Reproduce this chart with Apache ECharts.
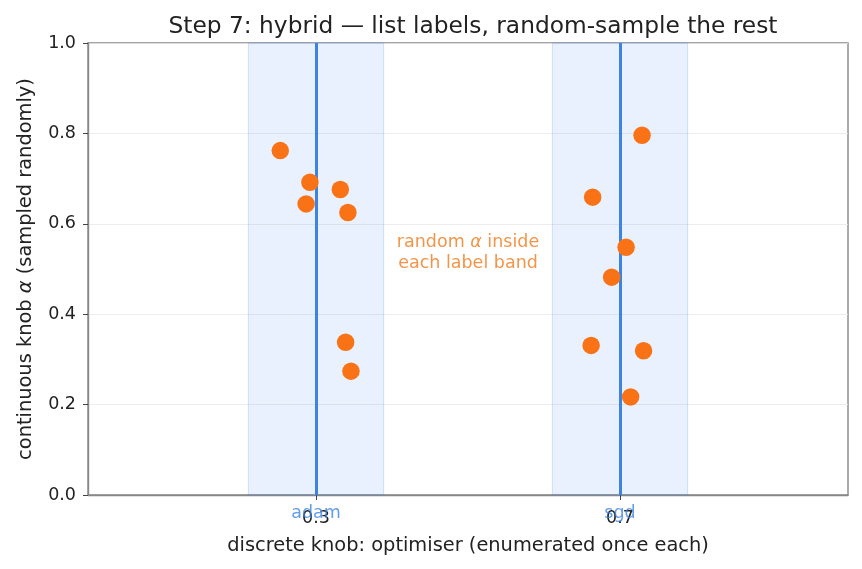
<!DOCTYPE html>
<html><head><meta charset="utf-8">
<script src="https://cdn.jsdelivr.net/npm/echarts@6/dist/echarts.min.js"></script>
<style>html,body{margin:0;padding:0;background:#fff}#c{width:862px;height:569px}</style>
</head><body><div id="c"></div>
<script>
const labels = ['adam', 'sgd'];
const labelPositions = [0.3, 0.7];
const bandHalfWidth = 0.089;
const adamPoints = [[0.253,0.762],[0.292,0.692],[0.332,0.676],[0.287,0.644],[0.342,0.625],[0.339,0.338],[0.346,0.274]];
const sgdPoints = [[0.729,0.796],[0.664,0.659],[0.708,0.548],[0.689,0.482],[0.662,0.331],[0.731,0.319],[0.714,0.217]];
const yTicks = [0, 0.2, 0.4, 0.6, 0.8, 1.0];
const annotation = {x: 0.5, y: 0.535};

const FONT = 'DejaVu Sans';
const BLUE = '#3d84e2';
const ORANGE = '#f97316';
const TEXT_ORANGE = '#f07a1c';
const chart = echarts.init(document.getElementById('c'));
chart.setOption({
  animation: false,
  textStyle: {fontFamily: FONT},
  title: {text: 'Step 7: hybrid — list labels, random-sample the rest', left: 468, textAlign: 'center', top: 10,
    textStyle: {fontFamily: FONT, fontSize: 23.3, fontWeight: 'normal', color: '#222'}},
  grid: {left: 88, right: 14, top: 43, bottom: 74, show: true, borderColor: '#888', borderWidth: 1.4, backgroundColor: 'transparent'},
  xAxis: {type: 'value', min: 0, max: 1,
    name: 'discrete knob: optimiser (enumerated once each)', nameLocation: 'middle', nameGap: 41,
    nameTextStyle: {fontFamily: FONT, fontSize: 19.4, color: '#222'},
    axisLine: {show: true, lineStyle: {color: '#888', width: 1.4}},
    axisTick: {show: true, customValues: labelPositions, length: 5, lineStyle: {color: '#444'}},
    axisLabel: {customValues: labelPositions, formatter: v => v.toFixed(1), fontFamily: FONT, fontSize: 17.5, color: '#222', margin: 14},
    splitLine: {show: false}},
  yAxis: {type: 'value', min: 0, max: 1, interval: 0.2,
    name: 'continuous knob {i|α} (sampled randomly)', nameLocation: 'middle', nameGap: 53,
    nameTextStyle: {fontFamily: FONT, fontSize: 19.4, color: '#222', rich: {i: {fontStyle: 'italic', fontFamily: FONT, fontSize: 19.4, color: '#222'}}},
    axisLine: {show: true, lineStyle: {color: '#888', width: 1.4}},
    axisTick: {show: true, length: 5, lineStyle: {color: '#444'}},
    axisLabel: {formatter: v => v.toFixed(1), fontFamily: FONT, fontSize: 17.5, color: '#222', margin: 12},
    splitLine: {show: true, lineStyle: {color: '#e6e9ee', width: 0.8}}},
  series: [
    {type: 'scatter', name: 'bands', data: [], symbolSize: 0, silent: true,
      markArea: {silent: true, itemStyle: {color: 'rgba(59,130,246,0.11)', borderColor: 'rgba(59,130,246,0.22)', borderWidth: 1},
        data: labelPositions.map(p => [{xAxis: p - bandHalfWidth}, {xAxis: p + bandHalfWidth}])},
      markLine: {silent: true, symbol: 'none', label: {show: false}, lineStyle: {color: BLUE, width: 3, type: 'solid'},
        data: labelPositions.map(p => ({xAxis: p}))}},
    {type: 'scatter', name: 'adam', data: adamPoints, symbolSize: 17.5, itemStyle: {color: ORANGE, opacity: 1}, z: 5},
    {type: 'scatter', name: 'sgd', data: sgdPoints, symbolSize: 17.5, itemStyle: {color: ORANGE, opacity: 1}, z: 5},
    {type: 'scatter', name: 'labelNames', clip: false, symbolSize: 0, silent: true, z: 6,
      data: labelPositions.map((p, i) => ({value: [p, 0], name: labels[i]})),
      label: {show: true, position: 'bottom', distance: 9, formatter: p => p.name, fontFamily: FONT, fontSize: 17.5, color: BLUE}},
    {type: 'scatter', name: 'note', clip: false, symbolSize: 0, silent: true, z: 6,
      data: [[annotation.x, annotation.y]],
      label: {show: true, position: 'inside', formatter: 'random {i|α} inside\neach label band', align: 'center', verticalAlign: 'middle',
        lineHeight: 21, fontFamily: FONT, fontSize: 17.5, color: TEXT_ORANGE,
        rich: {i: {fontStyle: 'italic', fontFamily: FONT, fontSize: 17.5, color: TEXT_ORANGE, lineHeight: 21}}}}
  ]
});
</script></body></html>
